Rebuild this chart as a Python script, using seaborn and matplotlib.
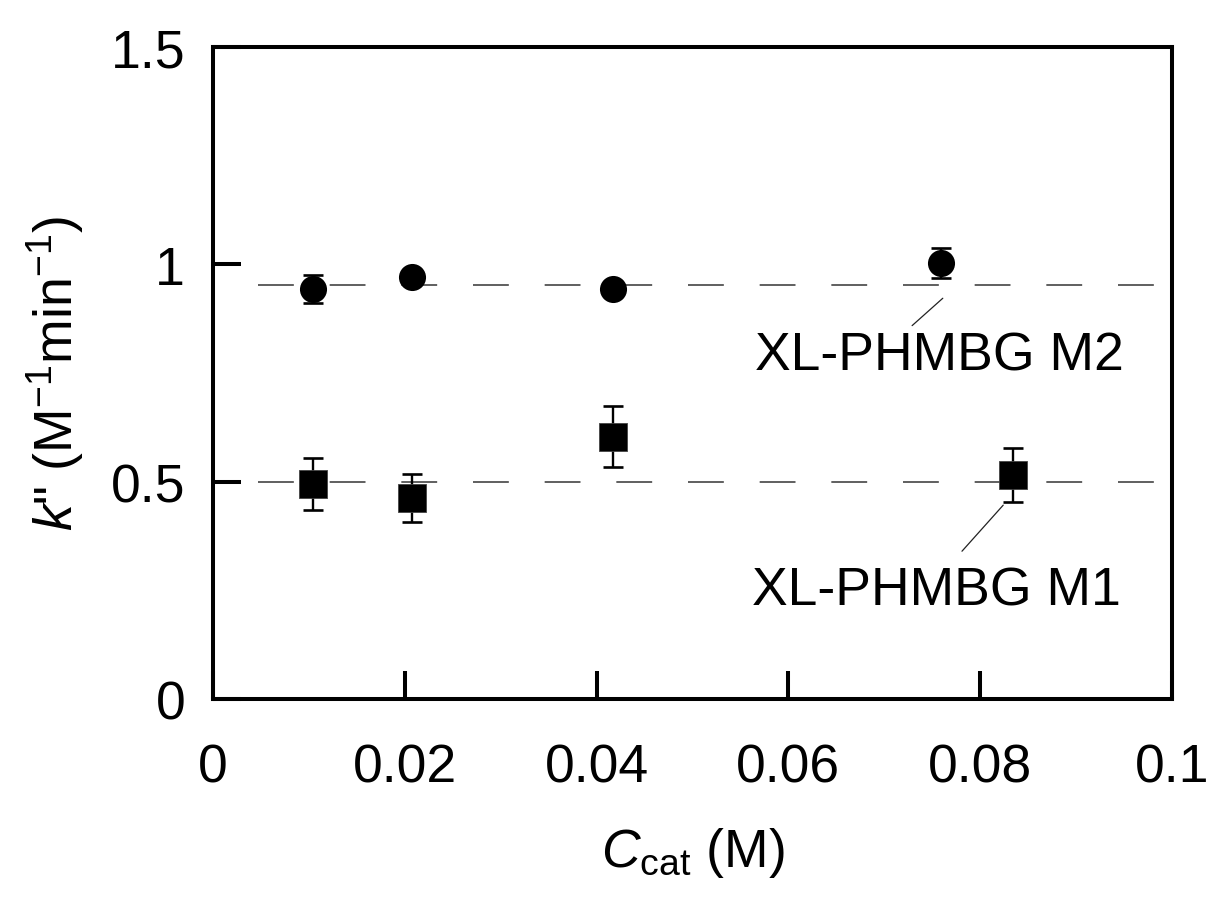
import numpy as np
import pandas as pd
import matplotlib
matplotlib.use("Agg")
import matplotlib.pyplot as plt
import seaborn as sns

# data
c_cat_m2 = [0.0104, 0.0207, 0.0417, 0.0759]
k_m2 = [0.943, 0.972, 0.943, 1.003]
err_m2 = [0.032, 0.010, 0.010, 0.035]

c_cat_m1 = [0.0104, 0.0207, 0.0417, 0.0834]
k_m1 = [0.495, 0.462, 0.603, 0.515]
err_m1 = [0.060, 0.055, 0.070, 0.062]

# mean levels (dashed guide lines)
mean_m2 = 0.952
mean_m1 = 0.500

x_ticks = [0, 0.02, 0.04, 0.06, 0.08, 0.1]
x_tick_labels = ["0", "0.02", "0.04", "0.06", "0.08", "0.1"]
y_ticks = [0, 0.5, 1, 1.5]
y_tick_labels = ["0", "0.5", "1", "1.5"]

sns.set_theme(style="ticks")
plt.rcParams['font.family'] = ['Liberation Sans', 'DejaVu Sans']
plt.rcParams['mathtext.fontset'] = 'custom'
plt.rcParams['mathtext.rm'] = 'Liberation Sans'
plt.rcParams['mathtext.it'] = 'Liberation Sans:italic'
plt.rcParams['axes.linewidth'] = 2.9
plt.rcParams['text.color'] = 'black'
plt.rcParams['axes.labelcolor'] = 'black'
plt.rcParams['xtick.color'] = 'black'
plt.rcParams['ytick.color'] = 'black'

fs = 38.5

fig = plt.figure(figsize=(12.08, 9.04), dpi=100)
ax = fig.add_axes([213 / 1208, 1 - 700 / 904, (1172 - 213) / 1208, (700 - 48) / 904])

df_m2 = pd.DataFrame({"c": c_cat_m2, "k": k_m2, "err": err_m2})
df_m1 = pd.DataFrame({"c": c_cat_m1, "k": k_m1, "err": err_m1})

# dashed guide lines
for lvl in [mean_m2, mean_m1]:
    ax.plot([0.0047, 0.0983], [lvl, lvl], color="#444444", lw=1.2,
            linestyle=(0, (21.5, 21.5)), zorder=1)

# error bars
ax.errorbar(df_m2["c"], df_m2["k"], yerr=df_m2["err"], fmt="none",
            ecolor="black", elinewidth=1.7, capsize=7.2, capthick=1.9, zorder=2)
ax.errorbar(df_m1["c"], df_m1["k"], yerr=df_m1["err"], fmt="none",
            ecolor="black", elinewidth=1.7, capsize=7.2, capthick=1.9, zorder=2)

# markers
sns.scatterplot(data=df_m2, x="c", y="k", marker="o", s=19.5 ** 2, color="black",
                edgecolor="black", linewidth=0, ax=ax, zorder=3)
sns.scatterplot(data=df_m1, x="c", y="k", marker="s", s=20 ** 2, color="black",
                edgecolor="#444444", linewidth=0.6, ax=ax, zorder=3)

# annotation labels with leader lines
ax.annotate("", xy=(0.0761, 0.922), xytext=(0.0729, 0.859),
            arrowprops=dict(arrowstyle="-", color="#222222", lw=0.9,
                            shrinkA=0, shrinkB=0))
ax.text(0.0757, 0.790, "XL-PHMBG M2", ha="center", va="center", fontsize=fs)
ax.annotate("", xy=(0.0824, 0.446), xytext=(0.0781, 0.340),
            arrowprops=dict(arrowstyle="-", color="#222222", lw=0.9,
                            shrinkA=0, shrinkB=0))
ax.text(0.0754, 0.249, "XL-PHMBG M1", ha="center", va="center", fontsize=fs)

ax.set_xlim(0, 0.1)
ax.set_ylim(0, 1.5)
ax.set_xticks(x_ticks)
ax.set_xticklabels(x_tick_labels)
ax.set_yticks(y_ticks)
ax.set_yticklabels(y_tick_labels)
ax.tick_params(axis="x", direction="in", length=20, width=2.9, pad=31, labelsize=fs)
ax.tick_params(axis="y", direction="in", length=20, width=2.9, pad=20, labelsize=fs)
for sp in ax.spines.values():
    sp.set_visible(True)
    sp.set_color("black")

ax.set_xlabel(r"$C_{\mathrm{cat}}$ (M)", fontsize=fs, labelpad=24)
ax.set_ylabel(r'$k$" (M$^{-1}$min$^{-1}$)', fontsize=fs, labelpad=18)

plt.savefig("out.png", dpi=100)
